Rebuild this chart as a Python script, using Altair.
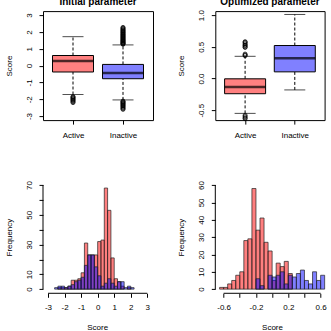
import altair as alt
import pandas as pd

FONT = "Liberation Sans"
GROUPS = ["Active", "Inactive"]
BOX_COLORS = ["#FF8080", "#8080FF"]
HIST_RED = "#FF0000"
HIST_BLUE = "#0000FF"

# ---------------- box plot summaries ----------------
# order of each list follows GROUPS: Active, Inactive
init_lower = [-1.72, -2.04]
init_q1 = [-0.38, -0.78]
init_median = [0.27, -0.44]
init_q3 = [0.60, 0.07]
init_upper = [1.72, 1.23]
init_out_active = [-1.84, -1.88, -1.93, -1.98, -2.03, -2.08, -2.14, -2.20]
init_out_inactive = [1.27, 1.30, 1.33, 1.36, 1.40, 1.43, 1.47, 1.50, 1.54, 1.58,
                     1.62, 1.66, 1.70, 1.74, 1.78, 1.82, 1.86, 1.90, 1.95, 1.99,
                     2.03, 2.08, 2.12, 2.17, 2.22, 2.27,
                     -2.11, -2.15, -2.19, -2.24, -2.28, -2.33, -2.38, -2.43,
                     -2.49, -2.55, -2.60]

opt_lower = [-0.55, -0.18]
opt_q1 = [-0.24, 0.105]
opt_median = [-0.135, 0.32]
opt_q3 = [-0.005, 0.52]
opt_upper = [0.35, 1.01]
opt_out_active = [0.36, 0.37, 0.385, 0.49, 0.50, 0.52, 0.53, 0.55, 0.57, 0.58,
                  -0.58, -0.60, -0.62, -0.635]
opt_out_inactive = []

# ---------------- histogram counts ----------------
init_bin_left = [-2.6, -2.4, -2.2, -2.0, -1.8, -1.6, -1.4, -1.2, -1.0, -0.8,
                 -0.6, -0.4, -0.2, 0.0, 0.2, 0.4, 0.6, 0.8, 1.0, 1.2,
                 1.4, 1.6, 1.8, 2.0]
init_bin_width = 0.2
init_count_active = [0, 1, 1, 1, 2, 6, 6, 7, 11, 31,
                     23, 23, 23, 32, 33, 68, 53, 21, 7, 5,
                     2, 0, 1, 0]
init_count_inactive = [1, 2, 2, 1, 2, 3, 5, 6, 8, 16,
                       23, 23, 15, 9, 2, 4, 7, 4, 2, 5,
                       5, 1, 2, 1]

opt_bin_left = [-0.65, -0.60, -0.55, -0.50, -0.45, -0.40, -0.35, -0.30, -0.25,
                -0.20, -0.15, -0.10, -0.05, 0.00, 0.05, 0.10, 0.15, 0.20, 0.25,
                0.30, 0.35, 0.40, 0.45, 0.50, 0.55, 0.60]
opt_bin_width = 0.05
opt_count_active = [1, 1, 3, 5, 8, 10, 28, 29, 58,
                    34, 41, 27, 22, 5, 15, 13, 16, 9, 0,
                    0, 0, 0, 0, 0, 0, 0]
opt_count_inactive = [0, 0, 0, 0, 0, 0, 0, 0, 0,
                      6, 2, 0, 8, 7, 8, 10, 3, 8, 7,
                      9, 11, 5, 3, 10, 5, 8]

# ---------------- axis ticks ----------------
init_box_ticks = [-3, -2, -1, 0, 1, 2, 3]
opt_box_ticks = [-0.5, 0.0, 0.5, 1.0]
init_hist_xticks = [-3, -2, -1, 0, 1, 2, 3]
init_hist_yticks = [0, 10, 20, 30, 40, 50, 60, 70]
init_hist_ylabels = [0, 10, 30, 50, 70]
opt_hist_xticks = [-0.6, -0.4, -0.2, 0.0, 0.2, 0.4, 0.6]
opt_hist_xlabels = [-0.6, -0.2, 0.2, 0.6]
opt_hist_yticks = [0, 10, 20, 30, 40, 50, 60]

MINUS_FIX = "replace(datum.label, '\u2212', '-')"


def shown_expr(shown):
    arr = "[" + ",".join(repr(float(v)) for v in shown) + "]"
    return f"indexof({arr}, datum.value) >= 0 ? {MINUS_FIX} : ''"


def y_axis(ticks, fmt, title, h, label_expr=MINUS_FIX, title_x=-30):
    return alt.Axis(values=ticks, format=fmt, labelExpr=label_expr, domain=False,
                    grid=False, ticks=True, tickSize=4, tickWidth=1, tickColor="black",
                    labelAngle=270, labelAlign="center", labelBaseline="bottom",
                    labelPadding=6, labelOverlap=False, labelFontSize=8,
                    labelFont=FONT, labelColor="black",
                    title=title, titleFont=FONT, titleFontSize=8,
                    titleFontWeight="normal", titleColor="black", titleAngle=270,
                    titleAlign="center", titleBaseline="bottom",
                    titleX=title_x, titleY=h / 2)


def box_panel(title, lower, q1, med, q3, upper, out_active, out_inactive,
              ydomain, yticks, yfmt, w, h, title_offset):
    stats = pd.DataFrame({"group": GROUPS, "lower": lower, "q1": q1,
                          "median": med, "q3": q3, "upper": upper})
    outliers = pd.DataFrame({
        "group": [GROUPS[0]] * len(out_active) + [GROUPS[1]] * len(out_inactive),
        "value": list(out_active) + list(out_inactive)})

    x_axis = alt.Axis(domain=False, grid=False, ticks=True, tickSize=4,
                      tickColor="black", labelAngle=0, labelPadding=7,
                      labelFontSize=8, labelFont=FONT, labelColor="#000000",
                      title=None)
    xs = alt.Scale(type="point", domain=GROUPS, padding=0.6)
    ys = alt.Scale(domain=ydomain, nice=False, zero=False)
    ya = y_axis(yticks, yfmt, "Score", h)

    def X():
        return alt.X("group:N", scale=xs, axis=x_axis, sort=GROUPS)

    def Y(field):
        return alt.Y(field, type="quantitative", scale=ys, axis=ya)

    base = alt.Chart(stats)
    whisk_hi = base.mark_rule(color="black", strokeWidth=1, strokeDash=[3, 2]).encode(
        x=X(), y=Y("q3"), y2="upper")
    whisk_lo = base.mark_rule(color="black", strokeWidth=1, strokeDash=[3, 2]).encode(
        x=X(), y=Y("lower"), y2="q1")
    cap_hi = base.mark_tick(color="black", size=21, thickness=1, orient="horizontal").encode(
        x=X(), y=Y("upper"))
    cap_lo = base.mark_tick(color="black", size=21, thickness=1, orient="horizontal").encode(
        x=X(), y=Y("lower"))
    boxes = base.mark_bar(size=41, stroke="black", strokeWidth=1).encode(
        x=X(), y=Y("q1"), y2="q3",
        fill=alt.Fill("group:N", scale=alt.Scale(domain=GROUPS, range=BOX_COLORS),
                      legend=None))
    medians = base.mark_tick(color="black", size=41, thickness=2.5, orient="horizontal").encode(
        x=X(), y=Y("median"))
    pts = alt.Chart(outliers).mark_point(shape="circle", filled=False, color="black",
                                         size=16, strokeWidth=0.8, opacity=1).encode(
        x=X(), y=Y("value"))

    return alt.layer(whisk_hi, whisk_lo, cap_hi, cap_lo, boxes, medians, pts).properties(
        width=w, height=h,
        view=alt.ViewBackground(stroke="black", strokeWidth=1),
        title=alt.TitleParams(title, font=FONT, fontSize=10, fontWeight="bold",
                              color="black", anchor="middle", frame="group",
                              baseline="alphabetic", offset=title_offset))


def hist_panel(bin_left, bin_width, count_red, count_blue, xdomain, xticks, xfmt,
               xshown, ydomain, yticks, yshown, w, h):
    def bars(counts):
        rows = [(b, round(b + bin_width, 4), c) for b, c in zip(bin_left, counts) if c > 0]
        return pd.DataFrame(rows, columns=["start", "end", "count"])

    xs = alt.Scale(domain=xdomain, nice=False, zero=False)
    ys = alt.Scale(domain=ydomain, nice=False, zero=False)
    xa = alt.Axis(values=xticks, format=xfmt, labelExpr=shown_expr(xshown),
                  domain=False, grid=False, tickSize=4, tickColor="black",
                  labelPadding=6, labelFlush=False, labelOverlap=False,
                  labelFontSize=8, labelFont=FONT, labelColor="black",
                  title="Score", titleFont=FONT, titleFontSize=8,
                  titleFontWeight="normal", titleColor="black",
                  titleBaseline="top", titleY=30.5)
    ya = y_axis(yticks, "d", "Frequency", h, label_expr=shown_expr(yshown))

    def layer(counts, color):
        return alt.Chart(bars(counts)).mark_rect(
            fill=color, fillOpacity=0.5, stroke="#222222", strokeWidth=0.7).encode(
            x=alt.X("start:Q", scale=xs, axis=xa), x2="end",
            y=alt.Y("count:Q", scale=ys, axis=ya), y2=alt.Y2Datum(0))

    axis_span = pd.DataFrame({"x0": [xticks[0]], "x1": [xticks[-1]],
                              "y0": [yticks[0]], "y1": [yticks[-1]]})
    x_line = alt.Chart(axis_span).mark_rule(color="black", strokeWidth=1).encode(
        x=alt.X("x0:Q", scale=xs, axis=xa), x2="x1", y=alt.value(h))
    y_line = alt.Chart(axis_span).mark_rule(color="black", strokeWidth=1).encode(
        y=alt.Y("y0:Q", scale=ys, axis=ya), y2="y1", x=alt.value(0))

    return alt.layer(layer(count_red, HIST_RED), layer(count_blue, HIST_BLUE),
                     x_line, y_line).properties(
        width=w, height=h, view=alt.ViewBackground(stroke=None))


top_left = box_panel("Initial parameter", init_lower, init_q1, init_median, init_q3,
                     init_upper, init_out_active, init_out_inactive,
                     [-3.24, 3.24], init_box_ticks, "d", 110, 109, -4.2)
top_right = box_panel("Optimized parameter", opt_lower, opt_q1, opt_median, opt_q3,
                      opt_upper, opt_out_active, opt_out_inactive,
                      [-0.656, 1.063], opt_box_ticks, ".1f", 109.3, 109, -5.7)
bottom_left = hist_panel(init_bin_left, init_bin_width, init_count_active,
                         init_count_inactive, [-3.302, 3.24], init_hist_xticks, "d",
                         init_hist_xticks, [-2.8, 72.8], init_hist_yticks,
                         init_hist_ylabels, 108.3, 112.4)
bottom_right = hist_panel(opt_bin_left, opt_bin_width, opt_count_active,
                          opt_count_inactive, [-0.703, 0.7], opt_hist_xticks, ".1f",
                          opt_hist_xlabels, [-2.4, 62.4], opt_hist_yticks,
                          opt_hist_yticks, 113.4, 112.4)

chart = alt.concat(top_left, top_right, bottom_left, bottom_right, columns=2,
                   spacing={"row": 60.8, "column": 62.3}, bounds="flush").properties(
    padding={"left": 4.0, "top": -3.9, "right": 0, "bottom": 0},
    background="white",
).configure(font=FONT).configure_view(stroke=None)

chart.save("out.html", embed_options={"renderer": "svg", "actions": False})
